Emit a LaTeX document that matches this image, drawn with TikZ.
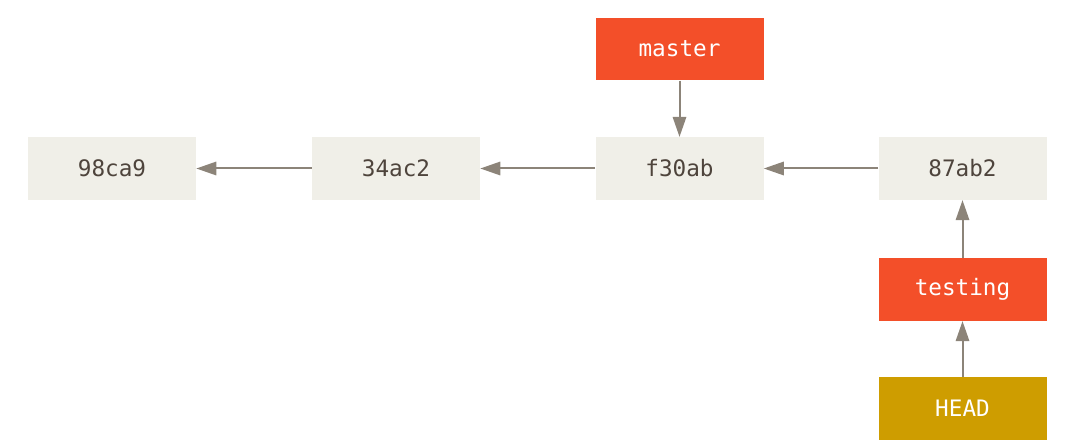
\documentclass[tikz,border=0pt]{standalone}
\usepackage{fontspec}
\setmonofont{DejaVu Sans Mono}
\usetikzlibrary{arrows.meta}
\definecolor{commitbg}{HTML}{F0EFE8}
\definecolor{branchred}{HTML}{F34F29}
\definecolor{headgold}{HTML}{CE9D00}
\definecolor{arrowgrey}{HTML}{8C8479}
\definecolor{textdark}{HTML}{4E443C}
\tikzset{
  box/.style={minimum width=126pt, minimum height=47pt, inner sep=0pt, font=\ttfamily\fontsize{17pt}{20pt}\selectfont},
  commit/.style={box, fill=commitbg, text=textdark},
  branch/.style={box, fill=branchred, text=white},
  headref/.style={box, fill=headgold, text=white},
  ptr/.style={draw=arrowgrey, line width=1.5pt, -{Triangle[length=15pt,width=10pt]}}
}
\begin{document}
\begin{tikzpicture}[x=0.75pt,y=-0.75pt]
    \useasboundingbox (0,0) rectangle (1080,445);

    % Commits
    \node[commit] (c1) at (112,168.5) {98ca9};
    \node[commit] (c2) at (396,168.5) {34ac2};
    \node[commit] (c3) at (679.5,168.5) {f30ab};
    \node[commit] (c4) at (962.5,168.5) {87ab2};

    % Refs
    \node[branch] (master) at (679.5,49) {master};
    \node[branch] (testing) at (962.5,289.5) {testing};
    \node[headref] (head) at (962.5,408.5) {HEAD};

    % Parent links
    \draw[ptr] (c4) -- (c3);
    \draw[ptr] (c3) -- (c2);
    \draw[ptr] (c2) -- (c1);
    \draw[ptr] (master) -- (c3);
    \draw[ptr] (testing) -- (c4);
    \draw[ptr] (head) -- (testing);
\end{tikzpicture}
\end{document}
